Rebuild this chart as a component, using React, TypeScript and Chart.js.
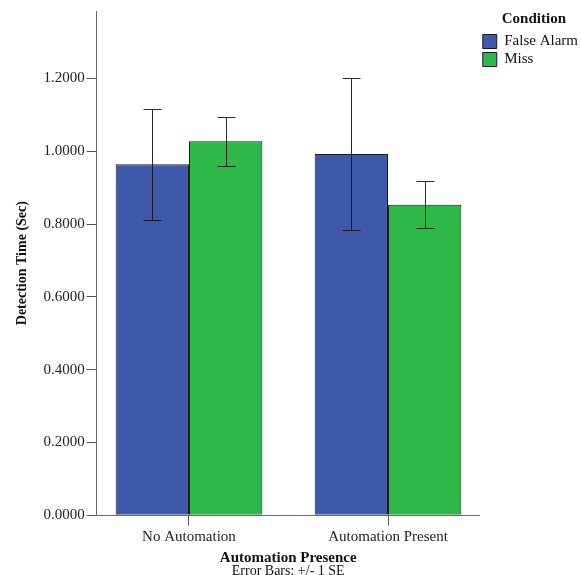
import React, { useEffect, useRef } from 'react';
import { Chart, registerables } from 'chart.js';
Chart.register(...registerables);

const categories = ['No Automation', 'Automation Present'];
const seriesNames = ['False Alarm', 'Miss'];
const falseAlarmMeans = [0.964, 0.992];
const missMeans = [1.027, 0.853];
const falseAlarmSE = [0.152, 0.209];
const missSE = [0.068, 0.064];
const yTickValues = [0, 0.2, 0.4, 0.6, 0.8, 1.0, 1.2];

const FONT = "'Liberation Serif', 'Times New Roman', serif";
const seriesMeans = [falseAlarmMeans, missMeans];
const seriesSE = [falseAlarmSE, missSE];
const seriesColors = ['#3E58AC', '#2EB848'];

const errorBarPlugin = {
  id: 'errorBars',
  afterDatasetsDraw(chart: any) {
    const ctx = chart.ctx;
    const y = chart.scales.y;
    ctx.save();
    ctx.strokeStyle = 'rgba(20,20,20,0.9)';
    ctx.lineWidth = 1;
    chart.data.datasets.forEach((ds: any, di: number) => {
      const meta = chart.getDatasetMeta(di);
      meta.data.forEach((el: any, i: number) => {
        const m = seriesMeans[di][i];
        const se = seriesSE[di][i];
        const x = Math.round(el.x) + 0.5;
        const yt = Math.round(y.getPixelForValue(m + se)) + 0.5;
        const yb = Math.round(y.getPixelForValue(m - se)) + 0.5;
        ctx.beginPath();
        ctx.moveTo(x, yt);
        ctx.lineTo(x, yb);
        ctx.moveTo(x - 9, yt);
        ctx.lineTo(x + 9, yt);
        ctx.moveTo(x - 9, yb);
        ctx.lineTo(x + 9, yb);
        ctx.stroke();
      });
    });
    ctx.restore();
  },
};

export default function App() {
  const ref = useRef<HTMLCanvasElement>(null);
  useEffect(() => {
    document.body.style.margin = '0';
    const chart = new Chart(ref.current as HTMLCanvasElement, {
      type: 'bar',
      data: {
        datasets: seriesNames.map((name, di) => ({
          label: name,
          data: seriesMeans[di].map((v, i) => ({ x: i, y: v })),
          backgroundColor: seriesColors[di],
          borderColor: '#1a1a1a',
          borderWidth: 1,
          categoryPercentage: 0.737,
          barPercentage: 1.0,
        })),
      },
      options: {
        animation: false,
        responsive: false,
        maintainAspectRatio: false,
        layout: { padding: { left: 8, top: 5, right: -7, bottom: 0 } },
        plugins: {
          tooltip: { enabled: false },
          legend: {
            position: 'right',
            align: 'start',
            title: {
              display: true,
              text: 'Condition',
              color: '#111',
              font: { family: FONT, size: 15, weight: 'bold' },
              padding: { top: 7, bottom: 1 },
            },
            labels: {
              boxWidth: 14,
              boxHeight: 14,
              padding: 3,
              color: '#111',
              font: { family: FONT, size: 15 },
            },
          },
          subtitle: {
            display: true,
            position: 'bottom',
            fullSize: false,
            text: 'Error Bars: +/- 1 SE',
            color: '#111',
            font: { family: FONT, size: 14, weight: 'normal', lineHeight: 0.55 },
            padding: { top: 0, bottom: 0 },
          },
        },
        scales: {
          x: {
            type: 'linear',
            offset: false,
            min: -0.464,
            max: 1.461,
            afterBuildTicks: (axis: any) => {
              axis.ticks = categories.map((_, i) => ({ value: i }));
            },
            ticks: {
              callback: (v: any) => categories[v as number] ?? '',
              color: '#222',
              font: { family: FONT, size: 15 },
              padding: 3,
              maxRotation: 0,
              autoSkip: false,
            },
            grid: { offset: false, drawOnChartArea: false, drawTicks: true, tickLength: 10, color: '#555' },
            border: { display: true, color: '#666' },
            title: {
              display: true,
              text: 'Automation Presence',
              color: '#111',
              font: { family: FONT, size: 15, weight: 'bold', lineHeight: 1 },
              padding: { top: 1.5, bottom: 1.5 },
            },
          },
          y: {
            type: 'linear',
            min: 0,
            max: 1.385,
            afterBuildTicks: (axis: any) => {
              axis.ticks = yTickValues.map((v) => ({ value: v }));
            },
            ticks: {
              callback: (v: any) => Number(v).toFixed(4),
              color: '#222',
              font: { family: FONT, size: 15 },
              padding: 2,
            },
            grid: { drawOnChartArea: false, drawTicks: true, tickLength: 10, color: '#555' },
            border: { display: true, color: '#666' },
            title: {
              display: true,
              text: 'Detection Time (Sec)',
              color: '#111',
              font: { family: FONT, size: 14, weight: 'bold' },
              padding: { top: 5.6, bottom: 11 },
            },
          },
        },
      },
      plugins: [errorBarPlugin],
    } as any);
    return () => chart.destroy();
  }, []);
  return (
    <div style={{ width: 581, height: 575 }}>
      <canvas ref={ref} width={581} height={575} style={{ display: 'block' }} />
    </div>
  );
}
